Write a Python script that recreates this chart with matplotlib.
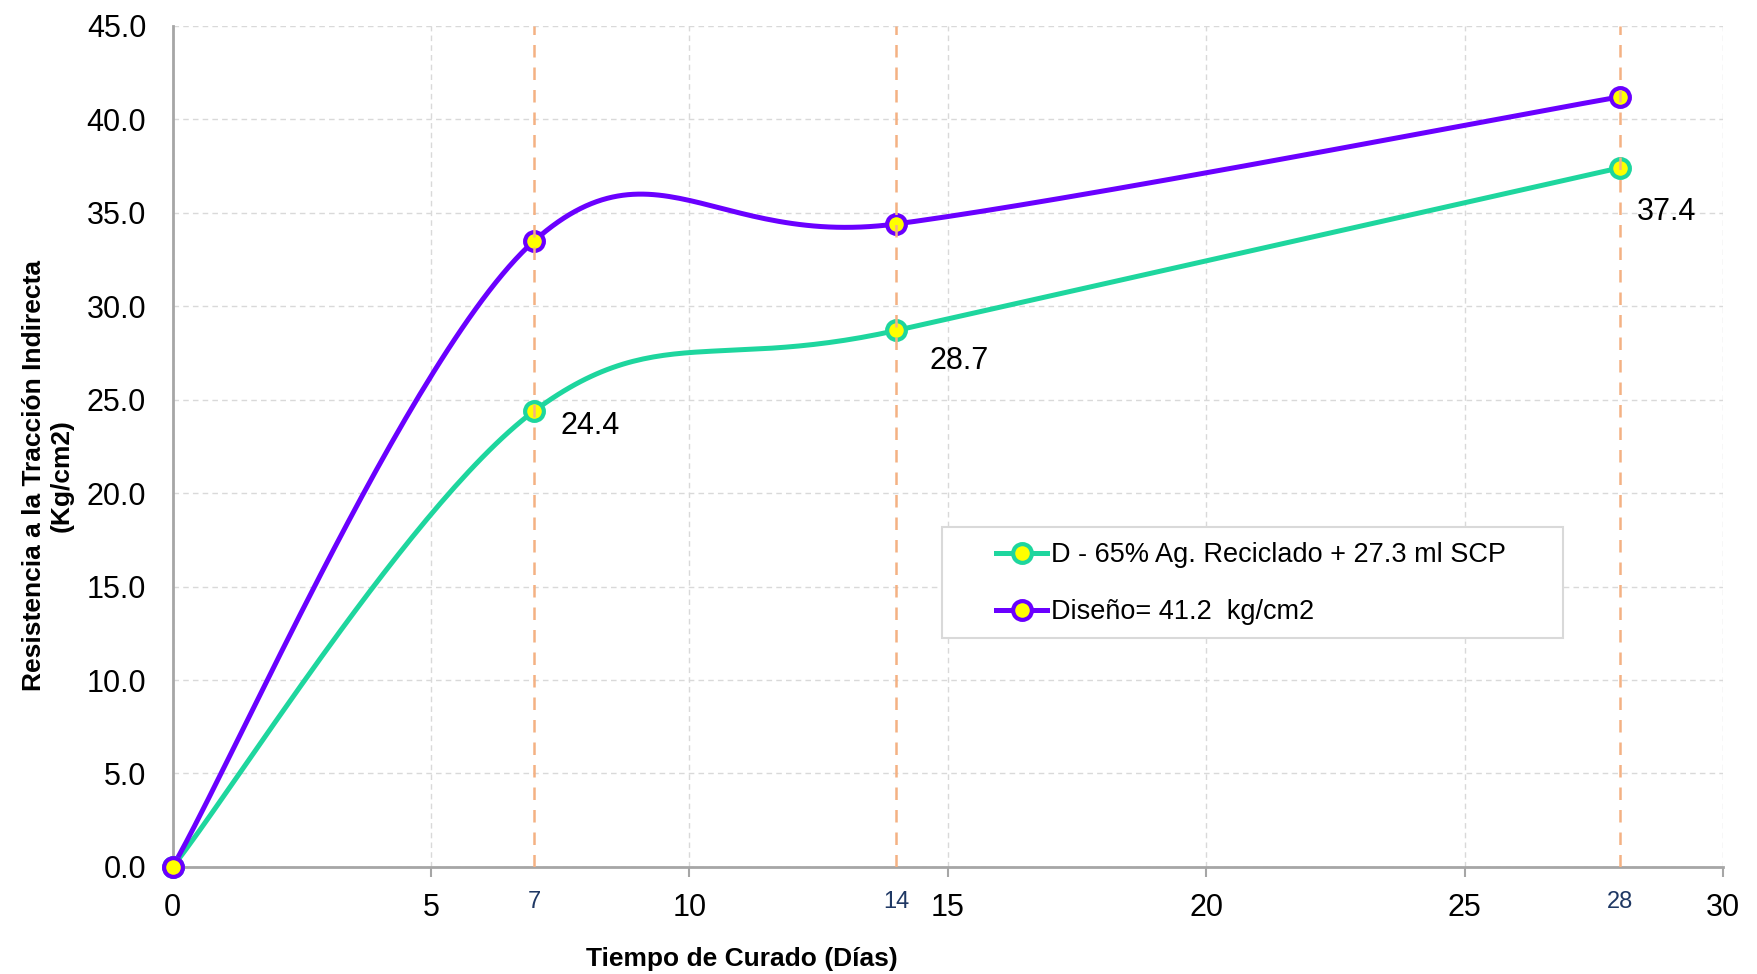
import numpy as np
import matplotlib
matplotlib.use("Agg")
import matplotlib.pyplot as plt
from matplotlib.patches import Rectangle

plt.rcParams['font.family'] = ['Liberation Sans', 'DejaVu Sans']

# curing time (days) and indirect tensile strength (kg/cm2)
dias = [0, 7, 14, 28]
mezcla_d = [0.0, 24.4, 28.7, 37.4]
diseno = [0.0, 33.5, 34.4, 41.2]

label_d = 'D - 65% Ag. Reciclado + 27.3 ml SCP'
label_diseno = 'Diseño= 41.2  kg/cm2'

edades = [7, 14, 28]
y_ticks = [0, 5, 10, 15, 20, 25, 30, 35, 40, 45]
x_ticks = [0, 5, 10, 15, 20, 25, 30]

verde = '#1ED69E'
morado = '#6A00FF'
naranja = '#F4B183'
amarillo = '#FFFF00'


def suavizar(xs, ys, n=60):
    # cubic bezier through the points, spreadsheet style smoothing
    p = np.column_stack([xs, ys]).astype(float)
    out = []
    for i in range(len(p) - 1):
        p0 = p[i - 1] if i > 0 else p[i]
        p1 = p[i]
        p2 = p[i + 1]
        p3 = p[i + 2] if i + 2 < len(p) else p[i + 1]
        c1 = p1 + (p2 - p0) / 6.0
        c2 = p2 - (p3 - p1) / 6.0
        t = np.linspace(0, 1, n)[:, None]
        seg = ((1 - t) ** 3) * p1 + 3 * ((1 - t) ** 2) * t * c1 + 3 * (1 - t) * t ** 2 * c2 + t ** 3 * p2
        out.append(seg if i == 0 else seg[1:])
    out = np.vstack(out)
    return out[:, 0], out[:, 1]


fig = plt.figure(figsize=(17.57, 9.74), dpi=100)
ax = fig.add_axes([0.0982, 0.1099, 0.8825, 0.8636])

ax.set_xlim(0, 30)
ax.set_ylim(0, 45)

ax.grid(True, color='#D9D9D9', linestyle=(0, (4, 3)), linewidth=1.0, zorder=0)
ax.set_axisbelow(True)

for d in edades:
    ax.axvline(d, color=naranja, linestyle=(0, (5, 4)), linewidth=1.8, zorder=6)

marcador = dict(marker='o', markersize=13.5, markerfacecolor=amarillo, markeredgewidth=3)

for ys, col, lab in [(mezcla_d, verde, label_d), (diseno, morado, label_diseno)]:
    sx, sy = suavizar(dias, ys)
    ax.plot(sx, sy, color=col, linewidth=3.6, zorder=3, solid_capstyle='round', clip_on=False)
    ax.plot(dias, ys, linestyle='none', markeredgecolor=col, zorder=4, clip_on=False, **marcador)
    # legend proxy
    ax.plot([], [], color=col, linewidth=3.6, markeredgecolor=col, label=lab, **marcador)

# value labels on the mix series
offsets = [(19, -11), (24, -22), (12, -32)]
for d, off in zip(edades, offsets):
    v = mezcla_d[dias.index(d)]
    ax.annotate('%.1f' % v, (d, v), xytext=off, textcoords='offset points',
                ha='left', va='center', fontsize=22, zorder=7)

ax.set_xticks(x_ticks)
ax.set_yticks(y_ticks)
ax.set_yticklabels(['%.1f' % v for v in y_ticks])
ax.tick_params(axis='x', length=7, width=1.5, color='#A6A6A6', pad=12, labelsize=22)
ax.tick_params(axis='y', length=0, pad=19, labelsize=22)

# extra day labels under the axis
for d in edades:
    ax.text(d, -0.029, str(d), transform=ax.get_xaxis_transform(),
            ha='center', va='top', fontsize=17, color='#1F3864')

for s in ['top', 'right']:
    ax.spines[s].set_visible(False)
for s in ['left', 'bottom']:
    ax.spines[s].set_color('#A6A6A6')
    ax.spines[s].set_linewidth(2)

ax.set_xlabel('Tiempo de Curado (Días)', fontsize=19, fontweight='bold')
ax.xaxis.set_label_coords(0.367, -0.095)
ax.set_ylabel('Resistencia a la Tracción Indirecta\n(Kg/cm2)', fontsize=19,
              fontweight='bold', multialignment='center')
ax.yaxis.set_label_coords(-0.064, 0.465)

ax.add_patch(Rectangle((0.496, 0.2722), 0.4008, 0.1318, transform=ax.transAxes,
                       facecolor='white', edgecolor='#D9D9D9', linewidth=1.5, zorder=8))
leg = ax.legend(loc='upper left', bbox_to_anchor=(0.531, 0.386), frameon=False,
                fontsize=19.5, handlelength=1.9, handletextpad=0.15, labelspacing=1.15,
                borderpad=0, borderaxespad=0)
leg.set_zorder(9)

fig.savefig('out.png', dpi=100)
